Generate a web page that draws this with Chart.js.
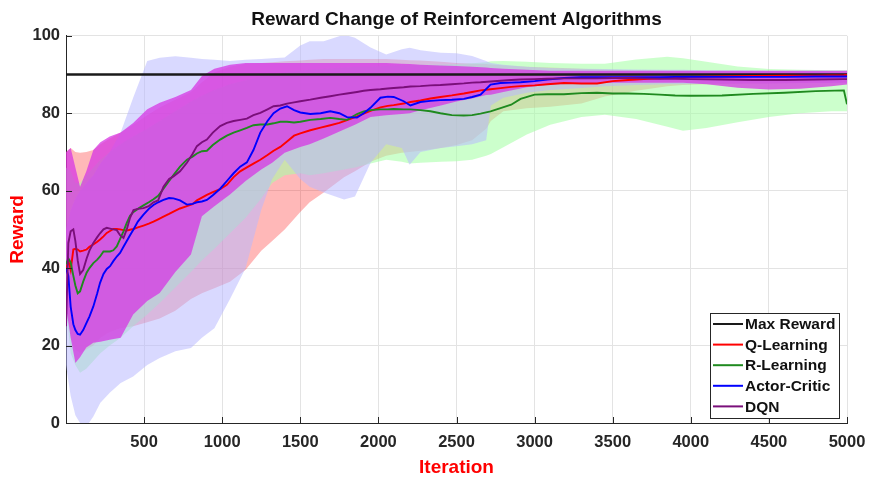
<!DOCTYPE html>
<html>
<head>
<meta charset="utf-8">
<script src="https://cdn.jsdelivr.net/npm/chart.js@4.4.1/dist/chart.umd.min.js"></script>
<style>
html,body{margin:0;padding:0;background:#ffffff;}
#wrap{width:870px;height:482px;position:relative;}
</style>
</head>
<body>
<div id="wrap"><canvas id="c" width="870" height="482"></canvas></div>
<script>
// ---------- data ----------
const maxReward = 90;
const xTickValues = [0, 500, 1000, 1500, 2000, 2500, 3000, 3500, 4000, 4500, 5000];
const seriesLabels = ['Max Reward', 'Q-Learning', 'R-Learning', 'Actor-Critic', 'DQN'];

// iterations at which the mean curves were read
const iterLine = [0,15,30,47,60,75,90,110,132,150,
  175,200,218,240,261,282,303,325,346,368,
  389,410,432,460,496,530,560,590,624,660,
  688,730,774,810,838,870,902,940,987,1030,
  1073,1115,1158,1200,1244,1290,1329,1372,1415,1460,
  1500,1564,1630,1692,1750,1799,1863,1906,1949,2013,
  2060,2098,2162,2205,2269,2333,2397,2470,2547,2600,
  2654,2718,2782,2850,2910,3000,3081,3188,3300,3400,
  3500,3600,3700,3800,3900,4000,4200,4400,4600,4800,
  4980,5000];

const qMean = [39.6,42,39.5,44.8,45,44.8,44.3,44.5,44.8,45.5,
  46.1,46.8,47.4,48.2,49.1,49.6,50.1,50.1,50,49.8,
  49.7,49.9,50.1,50.5,51,51.5,52,52.6,53.3,54,
  54.6,55.4,56,56.5,57.5,58.2,58.9,59.6,60.4,61.5,
  63.5,65,66,67,68,69.2,70.3,71.3,72.7,74.2,
  74.8,75.6,76.3,76.9,77.5,78.2,79.2,79.9,80.6,81.5,
  81.9,82.1,82.5,82.9,83.3,83.8,84.2,84.6,85.1,85.5,
  85.9,86.2,86.5,86.8,87,87.2,87.5,87.8,87.7,87.7,
  88.3,88.6,88.8,89,89.2,89.4,89.5,89.6,89.7,89.7,
  89.8,89.9];

const rMean = [41,42.5,41.5,38,35.5,33.5,34,36.5,38.8,40,
  41.3,42.2,43,44.3,44.3,44.3,44.6,45.6,47.5,49.5,
  51.7,53.5,54.5,55.3,56.2,57,57.8,58.7,60.5,62.5,
  64,66.2,68,68.8,69.6,70.2,70.3,71.8,73.2,74.2,
  75,75.6,76.2,76.9,77.1,77.1,77.4,77.8,77.8,77.6,
  77.8,78.3,78.5,78.8,78.5,78.3,79.8,80.5,80.8,81,
  81,81.1,81,81,80.8,80.5,80,79.5,79.4,79.5,
  79.9,80.5,81.3,82.2,83.7,84.8,84.9,84.9,85.2,85.3,
  85.1,85.1,85,84.8,84.6,84.5,84.6,85,85.3,85.7,
  85.9,82.3];

const acMean = [40,38,30,25.5,24,23,22.8,24,25.9,27.5,
  30.1,33.5,36.2,38.5,39.8,40.5,41.8,43,43.9,45.5,
  47,48.5,50,52,53.8,55.3,56.3,57,57.6,58.1,
  58,57.5,56.4,56.6,57,57.2,57.6,58.8,60.5,62.5,
  64.5,66.2,67.3,70.5,75,78,80,81.2,81.8,80.8,
  80.2,79.8,80,80.5,80,79,78.9,80,81.4,84,
  84.3,84.2,83.1,82,82.9,83.2,83.4,83.5,83.7,84.2,
  84.8,87.4,87.8,87.9,88,88.3,88.7,89.1,89.3,89.3,
  89.3,89.3,89.3,89.3,89.4,89.4,89.4,89.4,89.4,89.5,
  89.5,89.5];

const dqnMean = [25,46.5,49.5,50,47,42,38.5,39.5,42.5,44.5,
  46.5,48,49,50,50.4,50.2,50,49.8,48.5,47.8,
  50,53,55,55.3,55.5,56,57,57.5,61,63,
  63.7,65,67.2,69.5,71.5,72.5,73.2,75,76.7,77.5,
  78,78.3,78.6,79.5,80.1,81,81.8,82,82.5,82.8,
  83.1,83.5,84,84.4,84.8,85.1,85.5,85.8,86,86.2,
  86.4,86.5,86.7,86.9,87,87.2,87.3,87.5,87.7,87.9,
  88,88.2,88.4,88.6,88.7,88.8,88.9,89,89,89,
  89.1,89.1,89,88.9,88.9,88.8,88.7,88.6,88.6,88.7,
  88.8,88.8];

// iterations at which the shaded bands were read
const iterBand = [0,30,60,90,130,175,220,280,350,430,
  520,600,700,800,870,950,1050,1150,1250,1320,
  1400,1500,1560,1650,1780,1850,1950,2050,2150,2200,
  2270,2400,2500,2600,2690,2720,2800,2950,3100,3300,
  3450,3650,3850,3950,4100,4300,4500,4700,4900,5000];

const qHi = [70,71,70,69.8,70,70.5,72,73.5,75,77,
  79.5,81.5,83.5,85.5,88,90.5,92,92.8,93,93.2,
  93.4,93.6,93.8,94,94,94,94,94,93.8,93.7,
  93.6,93.3,93,92.8,92.7,92.6,92.4,92,91.8,91.5,
  91.3,91.1,91,91,90.9,90.8,90.7,90.7,90.6,90.6];
const qLo = [35,22,19,18,19,20,22,23.5,24.5,25,
  26,27,29,32,33.5,34.8,36.5,39.6,44.5,47,
  50,54.5,57,59.5,63.5,65,67.5,69,69.8,70,
  70.3,71,71.8,73,76,78,80.5,81.3,81.7,82.5,
  84.3,85.8,87,87.3,87.5,87.6,87.7,87.8,87.9,88];

const rHi = [66,65,62,62,64,66,68,70,72,74,
  76,78,80.5,83,84.5,86,87.5,88.5,89.5,90,
  90.5,91,91.2,91.5,91.8,92,92,92.2,92.3,92.4,
  92.5,92.6,92.7,92.9,93.2,93.4,93.5,93.3,93,92.8,
  92.8,93.9,94.6,94.2,93.3,92.1,91.4,91.2,91.1,91.1];
const rLo = [30,18,15,13,14,16,18,20,22,25,
  28,31,35,39,42,45,49,53,58,62,
  64,64.5,64,64.5,65.5,66,67,68,67.5,67,
  67.2,67.5,67.6,68,69,69.5,71.2,74.5,77,79,
  79.6,78.5,76.5,75.5,76.2,77.7,79,80,80.5,80.5];

const acHi = [50,55,58,60,62,64,67,70,75,84,
  93.5,94.3,94.7,94.3,94,93.8,93.5,93.8,94,94.2,
  94.4,97.5,98.6,98.6,100.3,99.5,97,95.2,96.5,96.9,
  96.3,95.6,95.5,94.8,93.5,93,92.5,92,91.7,91.5,
  91.4,91.3,91.2,91.2,91.1,91.1,91,91,91,91];
const acLo = [15,7,2,0,-1,1.7,5.2,7.8,10.3,12,
  15,16.8,18.5,19.4,22,24.5,32,40,55,63,
  68,63,61,59.5,57.7,58.5,67.2,72,71,66.7,
  70,71,71.5,72,73,82,84,85.3,86,86.5,
  87,87.3,87.5,87.5,87.6,87.7,87.7,87.8,87.8,87.8];

const dqnHi = [70,71,66,61,65,70.5,72.5,74,75,77.5,
  81,82.7,84.2,86,89.6,91.5,92.5,93,93,93,
  93,93,93,93,93,93,93,93,92.8,92.7,
  92.5,92.3,92.2,92,91.8,91.7,91.5,91.2,91,91,
  91,91,91,91,91,91,91,91,91,91];
const dqnLo = [30,22,15.5,17,19.5,20.7,21,21.5,22,28,
  31.5,33.6,39,43.5,53.4,56,59,62.5,65.5,67.2,
  69.8,71.3,72,73.5,75.8,77,79,79.5,79.8,80,
  80.8,82,83,83.8,84.7,84.8,85.5,86.7,87.4,87.7,
  87.9,87.9,87.9,87.9,87.5,86.6,86.1,86.3,87,87.4];

// ---------- build chart ----------
const FONT = '"Liberation Sans", Arial, Helvetica, sans-serif';
const pts = (xs, ys) => xs.map((x, i) => ({x: x, y: ys[i]}));

function band(label, hi, lo, color, order) {
  return [
    {label: label + ' upper', data: pts(iterBand, hi), borderWidth: 0, pointRadius: 0,
     fill: '+1', backgroundColor: color, borderColor: 'rgba(0,0,0,0)', order: order, isBand: true},
    {label: label + ' lower', data: pts(iterBand, lo), borderWidth: 0, pointRadius: 0,
     fill: false, borderColor: 'rgba(0,0,0,0)', order: order, isBand: true}
  ];
}
function line(label, xs, ys, color, width, order) {
  return {label: label, data: pts(xs, ys), borderColor: color, backgroundColor: color,
    borderWidth: width, pointRadius: 0, fill: false, tension: 0, order: order};
}

const datasets = [
  ...band('Q-Learning', qHi, qLo, 'rgba(255,0,0,0.28)', 20),
  ...band('R-Learning', rHi, rLo, 'rgba(166,255,166,0.57)', 19),
  ...band('Actor-Critic', acHi, acLo, 'rgba(183,183,255,0.53)', 18),
  ...band('DQN', dqnHi, dqnLo, 'rgba(215,55,228,0.75)', 17),
  line(seriesLabels[0], [0, 5000], [maxReward, maxReward], '#1a1a1a', 2.3, 5),
  line(seriesLabels[1], iterLine, qMean, '#ff0000', 1.9, 4),
  line(seriesLabels[2], iterLine, rMean, '#1f8a1f', 1.9, 3),
  line(seriesLabels[3], iterLine, acMean, '#0000ff', 1.9, 2),
  line(seriesLabels[4], iterLine, dqnMean, '#7a0f7a', 1.9, 1)
];

const decor = {
  id: 'decor',
  afterDraw(chart) {
    const {ctx, chartArea: a, scales} = chart;
    const x = scales.x, y = scales.y;
    ctx.save();
    ctx.strokeStyle = '#262626';
    ctx.lineWidth = 1;
    x.ticks.forEach(t => {
      const px = Math.round(x.getPixelForValue(t.value)) + 0.5;
      ctx.beginPath(); ctx.moveTo(px, a.bottom); ctx.lineTo(px, a.bottom - 6); ctx.stroke();
    });
    y.ticks.forEach(t => {
      const py = Math.round(y.getPixelForValue(t.value)) + 0.5;
      ctx.beginPath(); ctx.moveTo(a.left, py); ctx.lineTo(a.left + 6, py); ctx.stroke();
    });
    // legend box
    const items = chart.data.datasets.filter(d => !d.isBand);
    ctx.font = 'bold 15.5px ' + FONT;
    let tw = 0;
    items.forEach(d => { tw = Math.max(tw, ctx.measureText(d.label).width); });
    const rowH = 20.6;
    const w = Math.round(35 + tw + 4);
    const h = Math.round(items.length * rowH + 1.5);
    const right = Math.round(a.right - 8);
    const bottom = Math.round(a.bottom - 5);
    const left = right - w, top = bottom - h;
    ctx.fillStyle = '#ffffff';
    ctx.fillRect(left, top, w, h);
    ctx.strokeStyle = '#262626';
    ctx.lineWidth = 1;
    ctx.strokeRect(left + 0.5, top + 0.5, w, h);
    ctx.textBaseline = 'middle';
    ctx.textAlign = 'left';
    items.forEach((d, i) => {
      const cy = top + 11 + i * rowH;
      ctx.strokeStyle = d.borderColor;
      ctx.lineWidth = 2;
      ctx.beginPath(); ctx.moveTo(left + 3, cy); ctx.lineTo(left + 33, cy); ctx.stroke();
      ctx.fillStyle = '#111111';
      ctx.fillText(d.label, left + 35, cy + 1);
    });
    ctx.restore();
  }
};

new Chart(document.getElementById('c'), {
  type: 'line',
  data: {datasets: datasets},
  plugins: [decor],
  options: {
    responsive: false,
    animation: false,
    devicePixelRatio: 1,
    layout: {padding: {left: 0, right: 23, top: 0, bottom: 0}},
    plugins: {
      legend: {display: false},
      tooltip: {enabled: false},
      filler: {propagate: false},
      title: {
        display: true,
        text: 'Reward Change of Reinforcement Algorithms',
        fullSize: false,
        color: '#111111',
        font: {family: FONT, size: 19, weight: 'bold'},
        padding: {top: 8, bottom: 5}
      }
    },
    scales: {
      x: {
        type: 'linear', min: 0, max: 5000,
        afterFit(scale) { scale.height = 59; },
        afterBuildTicks(scale) { scale.ticks = xTickValues.map(v => ({value: v})); },
        ticks: {
          autoSkip: false, maxRotation: 0, padding: 0, color: '#262626',
          font: {family: FONT, size: 16.5, weight: 'bold'},
          callback: (v) => v === 0 ? '' : String(v)
        },
        grid: {color: '#e3e3e3', drawTicks: true, tickLength: 10, tickColor: 'rgba(0,0,0,0)', lineWidth: 1},
        border: {display: true, color: '#262626', width: 1},
        title: {display: true, text: 'Iteration', color: '#ff0000',
          font: {family: FONT, size: 19, weight: 'bold'}, padding: {top: 0, bottom: 3}}
      },
      y: {
        min: 0, max: 100,
        afterFit(scale) { scale.width = 66; },
        ticks: {stepSize: 20, padding: 6, color: '#262626',
          font: {family: FONT, size: 16.5, weight: 'bold'}},
        grid: {color: '#e3e3e3', drawTicks: false, lineWidth: 1},
        border: {display: true, color: '#262626', width: 1},
        title: {display: true, text: 'Reward', color: '#ff0000',
          font: {family: FONT, size: 19, weight: 'bold'}, padding: {top: 6, bottom: 0}}
      }
    }
  }
});
</script>
</body>
</html>
